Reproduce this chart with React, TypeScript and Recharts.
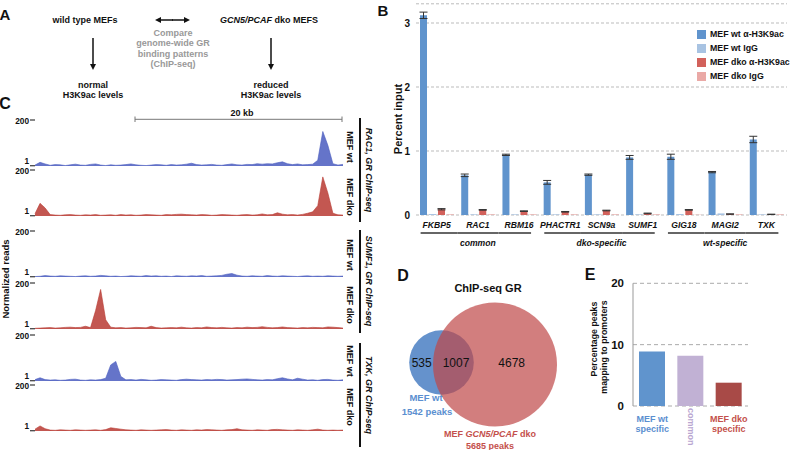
import React from 'react'
import {
  BarChart, Bar, XAxis, YAxis, CartesianGrid, ErrorBar, Cell,
  AreaChart, Area, ScatterChart, Scatter, ZAxis
} from 'recharts'

const FONT = '"Liberation Sans", Arial, Helvetica, sans-serif'

// ---- B: H3K9ac ChIP, percent input ----
const genes = ['FKBP5', 'RAC1', 'RBM16', 'PHACTR1', 'SCN9a', 'SUMF1', 'GIG18', 'MAGI2', 'TXK']
const geneGroups = ['common', 'common', 'common', 'dko-specific', 'dko-specific', 'dko-specific', 'wt-specific', 'wt-specific', 'wt-specific']
const wtAc = [3.12, 0.62, 0.94, 0.51, 0.63, 0.9, 0.91, 0.67, 1.18]
const wtAcErr = [0.05, 0.02, 0.01, 0.03, 0.01, 0.03, 0.04, 0.01, 0.05]
const wtIgG = [0.015, 0.01, 0.01, 0.01, 0.01, 0.01, 0.015, 0.025, 0.01]
const dkoAc = [0.09, 0.08, 0.06, 0.05, 0.07, 0.025, 0.08, 0.015, 0.01]
const dkoAcErr = [0.01, 0.005, 0.005, 0.005, 0.005, 0.005, 0.005, 0.003, 0.003]
const dkoIgG = [0.01, 0.01, 0.01, 0.01, 0.01, 0.01, 0.005, 0.01, 0.01]
const percentTicks = [0, 1, 2, 3]

const seriesB = [
  { key: 'wtAc', err: 'wtAcErr', name: 'MEF wt \u03b1-H3K9ac', color: '#6094cd' },
  { key: 'wtIgG', err: null, name: 'MEF wt IgG', color: '#a8c3e2' },
  { key: 'dkoAc', err: 'dkoAcErr', name: 'MEF dko \u03b1-H3K9ac', color: '#d2615b' },
  { key: 'dkoIgG', err: null, name: 'MEF dko IgG', color: '#eaa9a6' },
]

const bData = genes.map((gene, i) => ({
  gene,
  wtAc: wtAc[i], wtAcErr: wtAcErr[i], wtIgG: wtIgG[i],
  dkoAc: dkoAc[i], dkoAcErr: dkoAcErr[i], dkoIgG: dkoIgG[i],
}))

// ---- E: peaks at promoters ----
const eCats = ['MEF wt specific', 'common', 'MEF dko specific']
const eValues = [8.9, 8.2, 3.8]
const eTicks = [0, 10, 20]
const eColors = ['#6094cd', '#c1b1d4', '#a84a47']
const eLabelColors = ['#5b8fd0', '#b9a6d0', '#c4504c']
const eData = eCats.map((cat, i) => ({ cat, value: eValues[i] }))

// ---- D: venn ----
const vennNames = ['MEF wt', 'MEF GCN5/PCAF dko']
const vennPeaks = [1542, 5685]
const vennOnlyWt = 535
const vennShared = 1007
const vennOnlyDko = 4678

// ---- C: genome browser tracks (normalized reads, 1..200) ----
const trackRac1Wt = [
  4, 16, 9, 3, 6, 5, 2, 5, 8, 4,
  3, 7, 9, 4, 2, 5, 3, 4, 6, 9,
  5, 3, 2, 4, 6, 5, 3, 6, 4, 5,
  8, 12, 6, 4, 5, 7, 4, 3, 6, 9,
  5, 4, 7, 6, 10, 8, 10, 9, 14, 18,
  10, 6, 9, 5, 6, 8, 25, 150, 90, 10,
  4, 7]
const trackRac1Dko = [
  10, 55, 35, 6, 4, 3, 5, 6, 4, 3,
  5, 4, 6, 3, 4, 5, 3, 6, 4, 5,
  3, 4, 6, 5, 4, 3, 6, 5, 7, 8,
  6, 5, 4, 6, 5, 3, 4, 6, 5, 4,
  3, 5, 6, 4, 5, 9, 5, 6, 14, 8,
  5, 6, 4, 7, 12, 18, 45, 170, 100, 12,
  5, 4]
const trackSumf1Wt = [
  2, 3, 6, 4, 3, 5, 4, 3, 2, 4,
  5, 3, 4, 7, 5, 3, 4, 2, 3, 5,
  4, 3, 6, 4, 5, 3, 4, 2, 5, 4,
  3, 5, 4, 6, 3, 4, 5, 7, 12, 15,
  8, 4, 3, 5, 4, 3, 6, 4, 3, 5,
  4, 3, 2, 4, 5, 3, 4, 3, 5, 4,
  3, 4]
const trackSumf1Dko = [
  3, 4, 5, 6, 4, 5, 7, 8, 6, 7,
  12, 6, 80, 172, 40, 8, 5, 6, 4, 5,
  7, 6, 5, 12, 6, 4, 5, 6, 5, 8,
  5, 4, 6, 5, 9, 6, 5, 7, 5, 4,
  6, 5, 8, 6, 7, 10, 7, 5, 6, 9,
  6, 5, 4, 6, 5, 7, 6, 5, 9, 8,
  6, 4]
const trackTxkWt = [
  6, 14, 6, 4, 5, 3, 4, 7, 8, 4,
  3, 5, 4, 6, 12, 70, 85, 20, 5, 6,
  4, 7, 5, 3, 4, 6, 5, 4, 3, 6,
  8, 6, 5, 4, 6, 5, 7, 6, 4, 5,
  6, 8, 9, 7, 5, 4, 6, 5, 10, 14,
  9, 5, 12, 8, 4, 5, 3, 6, 7, 4,
  3, 5]
const trackTxkDko = [
  8, 22, 10, 4, 3, 5, 4, 3, 5, 4,
  3, 4, 5, 3, 6, 14, 11, 8, 5, 4,
  3, 5, 4, 3, 4, 5, 6, 4, 3, 5,
  4, 3, 5, 4, 6, 5, 4, 3, 5, 6,
  10, 5, 4, 3, 5, 4, 3, 6, 7, 5,
  4, 3, 5, 4, 3, 5, 8, 4, 3, 4,
  3, 4]
const readTicks = [1, 200]

const TRACK_BLUE = '#4a5cc0'
const TRACK_RED = '#b83a33'

// top = y of the "200" line of each track
const tracks = [
  { values: trackRac1Wt, color: TRACK_BLUE, top: 120 },
  { values: trackRac1Dko, color: TRACK_RED, top: 170 },
  { values: trackSumf1Wt, color: TRACK_BLUE, top: 231 },
  { values: trackSumf1Dko, color: TRACK_RED, top: 283 },
  { values: trackTxkWt, color: TRACK_BLUE, top: 335 },
  { values: trackTxkDko, color: TRACK_RED, top: 385 },
]

function T({ x, y, size = 9, weight = 'bold', color = '#111', rot = 0, italic = false, children }: any) {
  return (
    <div style={{
      position: 'absolute', left: x, top: y, transform: `translate(-50%,-50%) rotate(${rot}deg)`,
      fontSize: size, fontWeight: weight, color, whiteSpace: 'nowrap', lineHeight: 1,
      fontStyle: italic ? 'italic' : 'normal', textAlign: 'center',
    }}>{children}</div>
  )
}

const B_BAND = 371 / genes.length

function GeneTick(props: any) {
  const { x, y, payload } = props
  const i = payload.index
  const grp = geneGroups[i]
  const first = i === 0 || geneGroups[i - 1] !== grp
  const last = i === genes.length - 1 || geneGroups[i + 1] !== grp
  const x1 = first ? x - 16 : x - B_BAND / 2
  const x2 = last ? x + 12 : x + B_BAND / 2
  return (
    <g fontFamily={FONT}>
      <text x={x} y={y + 5} textAnchor="middle" fontSize={8.6} fontWeight="bold" fontStyle="italic" fill="#111">
        {payload.value}
      </text>
      <line x1={x1} x2={x2} y1={y + 10} y2={y + 10} stroke="#666" strokeWidth={2} />
      {!first && !last && (
        <text x={x} y={y + 22.5} textAnchor="middle" fontSize={8.6} fontWeight="bold" fontStyle="italic" fill="#111">
          {grp}
        </text>
      )}
    </g>
  )
}

function ETick(props: any) {
  const { x, y, payload } = props
  const i = payload.index
  const c = eLabelColors[i]
  if (payload.value === 'common') {
    return (
      <text x={x} y={y + 12.7} transform={`rotate(90 ${x} ${y + 12.7})`} textAnchor="middle" dominantBaseline="central"
        fontSize={9} fontWeight="bold" fill={c} fontFamily={FONT}>{payload.value}</text>
    )
  }
  const words = payload.value.split(' ')
  const l1 = words.slice(0, -1).join(' ')
  const l2 = words[words.length - 1]
  return (
    <g fontFamily={FONT}>
      <text x={x} y={y + 7.5} textAnchor="middle" fontSize={9} fontWeight="bold" fill={c}>{l1}</text>
      <text x={x} y={y + 17.5} textAnchor="middle" fontSize={9} fontWeight="bold" fill={c}>{l2}</text>
    </g>
  )
}

// "1" sits a little above its baseline mark, "200" is centred on its dash
function ReadTick(props: any) {
  const { x, y, payload } = props
  const dy = payload.value === 1 ? -4.3 : 1
  return (
    <text x={x} y={y + dy} textAnchor="end" dominantBaseline="central" fontSize={8.3} fontWeight="bold"
      fill="#111" fontFamily={FONT}>{payload.value}</text>
  )
}

function LegendB() {
  return (
    <div style={{ position: 'absolute', left: 697, top: 27 }}>
      {seriesB.map(s => (
        <div key={s.key} style={{ display: 'flex', alignItems: 'center', height: 14 }}>
          <div style={{ width: 9, height: 9, background: s.color, marginRight: 4 }} />
          <span style={{ fontSize: 8.8, fontWeight: 'bold', color: '#111', whiteSpace: 'nowrap' }}>{s.name}</span>
        </div>
      ))}
    </div>
  )
}

const TRACK_PAD = 7

function Track({ values, color, top }: any) {
  const data = values.map((v: number, i: number) => ({ i, v }))
  return (
    <div style={{ position: 'absolute', left: 0, top: top - TRACK_PAD }}>
      <AreaChart width={345} height={46 + 2 * TRACK_PAD} data={data}
        margin={{ top: TRACK_PAD, right: 2, bottom: TRACK_PAD, left: 0 }}>
        <XAxis dataKey="i" hide />
        <YAxis domain={[0, 200]} ticks={readTicks} interval={0} width={35} axisLine={false}
          tickLine={{ stroke: '#111' }} tickSize={5} tickMargin={1} tick={<ReadTick />} />
        <Area type="linear" dataKey="v" stroke={color} strokeWidth={0.6} fill={color} fillOpacity={0.85}
          dot={false} isAnimationActive={false} />
      </AreaChart>
    </div>
  )
}

const VENN_LAYOUT = [{ x: 71.5, y: 72.5 }, { x: 125, y: 74.5 }]
const vennColors = ['#6592cc', '#bf4747']
const vennOpacity = [1, 0.7]

function Arrow({ x1, y1, x2, y2 }: any) {
  const a = Math.atan2(y2 - y1, x2 - x1)
  const L = 6, W = 3
  const bx = x2 - L * Math.cos(a), by = y2 - L * Math.sin(a)
  const p = `${x2},${y2} ${bx - W * Math.sin(a)},${by + W * Math.cos(a)} ${bx + W * Math.sin(a)},${by - W * Math.cos(a)}`
  return (
    <g>
      <line x1={x1} y1={y1} x2={bx} y2={by} stroke="#111" strokeWidth={1.5} />
      <polygon points={p} fill="#111" />
    </g>
  )
}

export default function App() {
  const vennData = vennPeaks.map((peaks, i) => ({ ...VENN_LAYOUT[i], peaks, name: vennNames[i] }))
  return (
    <div style={{ position: 'absolute', left: 0, top: 0, width: 791, height: 450, background: '#fff', fontFamily: FONT, overflow: 'hidden' }}>
      {/* panel letters */}
      <T x={5} y={14} size={15}>A</T>
      <T x={383} y={10} size={15}>B</T>
      <T x={5} y={104} size={16}>C</T>
      <T x={403} y={276} size={16}>D</T>
      <T x={590} y={275} size={16}>E</T>

      {/* A */}
      <T x={85} y={20}>wild type MEFs</T>
      <T x={269} y={20}><i>GCN5/PCAF</i> dko MEFS</T>
      <T x={173} y={33} color="#999">Compare</T>
      <T x={173} y={43} color="#999">genome-wide GR</T>
      <T x={173} y={54} color="#999">binding patterns</T>
      <T x={173} y={64} color="#999">(ChIP-seq)</T>
      <T x={93} y={85}>normal</T>
      <T x={93} y={95}>H3K9ac levels</T>
      <T x={271} y={85}>reduced</T>
      <T x={271} y={95}>H3K9ac levels</T>

      {/* B */}
      <div style={{ position: 'absolute', left: 370, top: 0 }}>
        <BarChart width={421} height={260} data={bData} margin={{ top: 3.8, right: 4, bottom: 0, left: 0 }}
          barSize={7} barGap={2}>
          <CartesianGrid vertical={false} strokeDasharray="3 2" stroke="#bbb" />
          <XAxis dataKey="gene" interval={0} axisLine={false} tickLine={false} height={45} tick={<GeneTick />} />
          <YAxis domain={[0, 3.3]} ticks={percentTicks} width={46} axisLine={false} tickLine={false} tickMargin={0}
            tick={{ fontSize: 10, fontWeight: 'bold', fill: '#111' }} />
          {seriesB.map(s => (
            <Bar key={s.key} dataKey={s.key} name={s.name} fill={s.color} isAnimationActive={false}>
              {s.err && <ErrorBar dataKey={s.err} width={4} stroke="#333" strokeWidth={1} direction="y" />}
            </Bar>
          ))}
        </BarChart>
      </div>
      <LegendB />
      <T x={398} y={119} size={11} rot={-90}>Percent input</T>

      {/* C */}
      {tracks.map((t, i) => <Track key={i} {...t} />)}
      <T x={242} y={113}>20 kb</T>
      <T x={6} y={279} size={9.5} rot={-90}>Normalized reads</T>
      <T x={348.5} y={147} rot={90}>MEF wt</T>
      <T x={348.5} y={197} rot={90}>MEF dko</T>
      <T x={348.5} y={255} rot={90}>MEF wt</T>
      <T x={348.5} y={305} rot={90}>MEF dko</T>
      <T x={348.5} y={361} rot={90}>MEF wt</T>
      <T x={348.5} y={407} rot={90}>MEF dko</T>
      <T x={368} y={170} rot={90} italic>RAC1, GR ChIP-seq</T>
      <T x={368} y={281} rot={90} italic>SUMF1, GR ChIP-seq</T>
      <T x={368} y={395} rot={90} italic>TXK, GR ChIP-seq</T>

      {/* D */}
      <div style={{ position: 'absolute', left: 370, top: 290 }}>
        <ScatterChart width={200} height={160} margin={{ top: 0, right: 0, bottom: 0, left: 0 }}>
          <XAxis type="number" dataKey="x" domain={[0, 200]} hide />
          <YAxis type="number" dataKey="y" domain={[0, 160]} reversed hide />
          <ZAxis type="number" dataKey="peaks" domain={[0, 5685]} range={[0, Math.PI * 62 * 62]} />
          <Scatter data={vennData} shape="circle" isAnimationActive={false}>
            {vennData.map((d, i) => <Cell key={i} fill={vennColors[i]} fillOpacity={vennOpacity[i]} />)}
          </Scatter>
        </ScatterChart>
      </div>
      <T x={488} y={288} size={11}>ChIP-seq GR</T>
      <T x={421.7} y={363} size={12} weight="normal">{vennOnlyWt}</T>
      <T x={456} y={363} size={12} weight="normal">{vennShared}</T>
      <T x={511.7} y={363} size={12} weight="normal">{vennOnlyDko}</T>
      <T x={426} y={398} size={9.5} color="#5b8fd0">MEF wt</T>
      <T x={427} y={411.5} size={9.5} color="#5b8fd0">{vennPeaks[0]} peaks</T>
      <T x={490} y={434} size={9} color="#c4504c">MEF <i>GCN5/PCAF</i> dko</T>
      <T x={490} y={445.5} size={9} color="#c4504c">{vennPeaks[1]} peaks</T>

      {/* E */}
      <div style={{ position: 'absolute', left: 560, top: 270 }}>
        <BarChart width={231} height={180} data={eData} margin={{ top: 13.3, right: 43, bottom: 0, left: 0 }} barSize={26}>
          <CartesianGrid vertical={false} strokeDasharray="4 3" stroke="#aaa" />
          <XAxis dataKey="cat" interval={0} axisLine={false} tickLine={false} height={44} tick={<ETick />} />
          <YAxis domain={[0, 20]} ticks={eTicks} width={73} axisLine={{ stroke: '#999' }} tickLine={false} tickMargin={3}
            tick={{ fontSize: 11.5, fontWeight: 'bold', fill: '#111' }} />
          <Bar dataKey="value" isAnimationActive={false}>
            {eData.map((d, i) => <Cell key={i} fill={eColors[i]} />)}
          </Bar>
        </BarChart>
      </div>
      <T x={594} y={339} size={8.8} rot={-90}>Percentage peaks</T>
      <T x={603.5} y={347} size={8.8} rot={-90}>mapping to promoters</T>

      {/* lines: arrows, scale bar, track brackets */}
      <svg width={791} height={450} style={{ position: 'absolute', left: 0, top: 0, pointerEvents: 'none' }}>
        <Arrow x1={173} y1={20} x2={155} y2={20} />
        <Arrow x1={172} y1={20} x2={190} y2={20} />
        <Arrow x1={93} y1={38} x2={93} y2={70} />
        <Arrow x1={271} y1={38} x2={271} y2={70} />
        <line x1={135} x2={342} y1={119.3} y2={119.3} stroke="#777" strokeWidth={1} />
        <line x1={135} x2={135} y1={116.5} y2={122} stroke="#777" strokeWidth={1} />
        <line x1={342} x2={342} y1={116.5} y2={122} stroke="#777" strokeWidth={1} />
        <line x1={360} x2={360} y1={118} y2={222} stroke="#111" strokeWidth={2} />
        <line x1={360} x2={360} y1={230} y2={333} stroke="#111" strokeWidth={2} />
        <line x1={360} x2={360} y1={343} y2={447} stroke="#111" strokeWidth={2} />
      </svg>
    </div>
  )
}
